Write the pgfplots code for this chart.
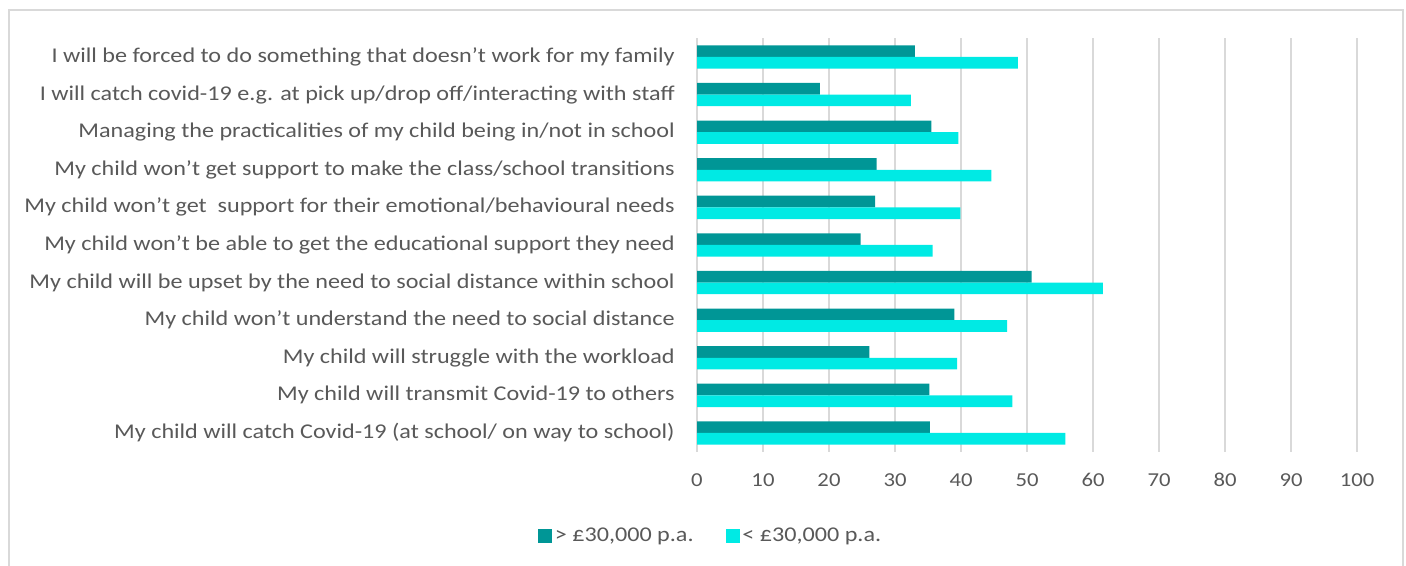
\documentclass[border=0pt]{standalone}
\usepackage{pgfplots}
\pgfplotsset{compat=1.18}
\usepackage{fontspec}
\setmainfont{Carlito}[FakeStretch=1.15]
\definecolor{darkteal}{RGB}{0,150,150}
\definecolor{lightcyan}{RGB}{0,234,228}
\definecolor{gridgray}{RGB}{217,217,217}
\definecolor{labelgray}{RGB}{89,89,89}
\definecolor{tickgray}{RGB}{89,89,89}
\begin{document}
\begin{tikzpicture}
\useasboundingbox (0pt,0pt) rectangle (1054.5pt,424.5pt);
\draw[gridgray, line width=1.2pt] (6.75pt,0pt) -- (6.75pt,417pt) -- (1052.25pt,417pt) -- (1052.25pt,0pt);
\begin{axis}[
  at={(522.75pt,85.65pt)}, anchor=south west,
  scale only axis, width=495pt, height=310.2pt,
  xmin=0, xmax=100, ymin=-0.5, ymax=10.5,
  xtick={0,10,...,100}, ytick={0,...,10},
  yticklabels={
    {My child will catch Covid-19 (at school/ on way to school)},
    {My child will transmit Covid-19 to others},
    {My child will struggle with the workload},
    {My child won’t understand the need to social distance},
    {My child will be upset by the need to social distance within school},
    {My child won’t be able to get the educational support they need},
    {My child won’t get\ \ support for their emotional/behavioural needs},
    {My child won’t get support to make the class/school transitions},
    {Managing the practicalities of my child being in/not in school},
    {I will catch covid-19 e.g. at pick up/drop off/interacting with staff},
    {I will be forced to do something that doesn’t work for my family}},
  xmajorgrids, major grid style={gridgray, line width=1pt},
  axis line style={draw=none},
  major tick length=0pt,
  /pgf/number format/assume math mode=true,
  yticklabel style={font=\fontsize{15.75}{18}\selectfont, text=labelgray, inner sep=0pt, xshift=-16.5pt},
  xticklabel style={font=\fontsize{14.8}{17}\selectfont, text=tickgray, inner sep=0pt, yshift=-16pt},
  xbar, bar width=0.31,
  legend style={at={(0.0212,-0.2036)}, anchor=center, draw=none, legend columns=2,
    font=\fontsize{15.75}{18}\selectfont, text=tickgray,
    /tikz/every even column/.append style={column sep=22pt},
    legend cell align=left},
  legend image code/.code={\path[#1] (0pt,-5.25pt) rectangle (10.5pt,5.25pt);},
]
\addplot[fill=darkteal, draw=none, bar shift=0.155] coordinates {
  (35.3,0) (35.2,1) (26.1,2) (39.0,3) (50.7,4) (24.8,5) (27.0,6) (27.2,7) (35.5,8) (18.6,9) (33.0,10)};
\addlegendentry{> £30,000 p.a.}
\addplot[fill=lightcyan, draw=none, bar shift=-0.155] coordinates {
  (55.8,0) (47.8,1) (39.4,2) (47.0,3) (61.5,4) (35.7,5) (39.9,6) (44.6,7) (39.6,8) (32.4,9) (48.6,10)};
\addlegendentry{< £30,000 p.a.}
\end{axis}
\end{tikzpicture}
\end{document}
